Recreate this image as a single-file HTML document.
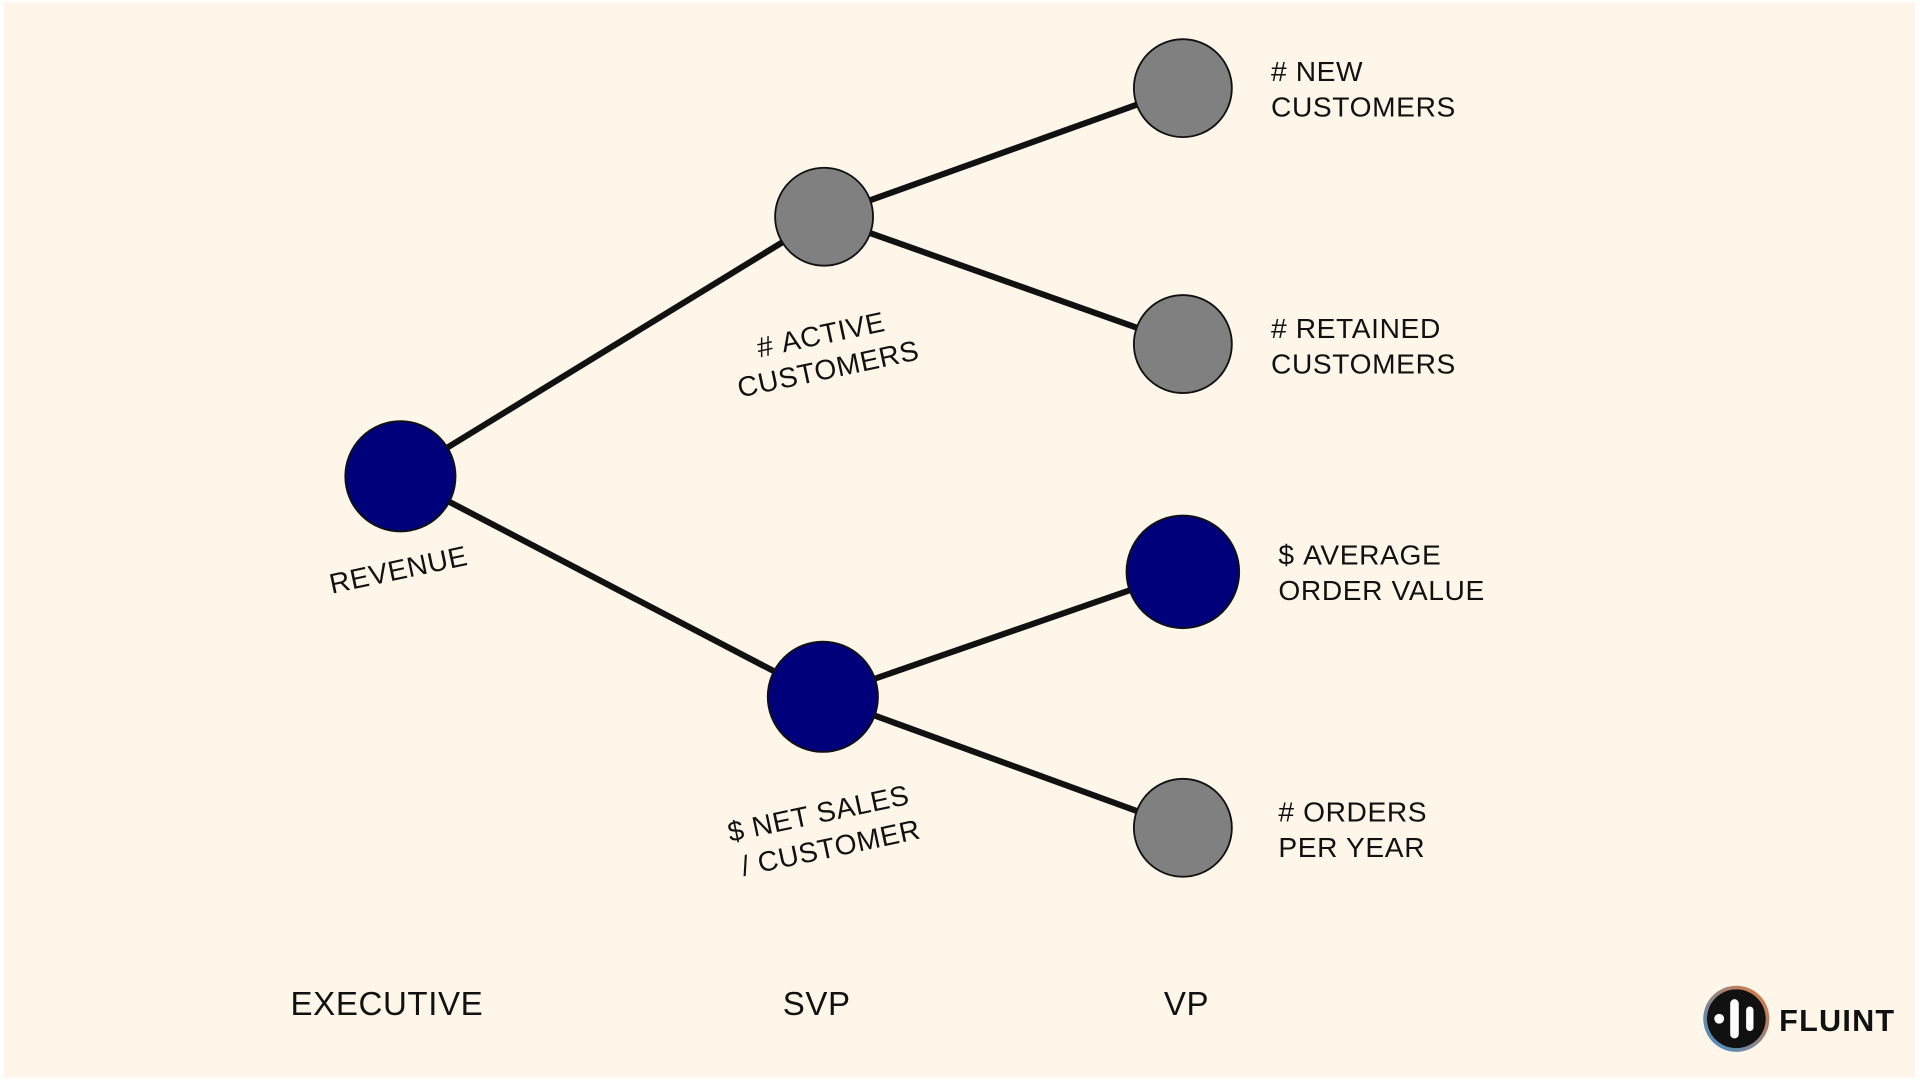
<!DOCTYPE html>
<html><head><meta charset="utf-8"><style>
html,body{margin:0;padding:0;background:#fff;}
svg{display:block;}
text{font-family:"Liberation Sans",sans-serif;fill:#111;}
</style></head><body>
<svg width="1920" height="1080" viewBox="0 0 1568 882" preserveAspectRatio="none">
<rect x="0" y="0" width="1568" height="882" fill="#fff"/>
<rect x="3" y="2" width="1561" height="878" fill="#fdf6e9"/>
<g stroke="#111" stroke-width="5">
<line x1="327" y1="389" x2="673" y2="177"/>
<line x1="327" y1="389" x2="672" y2="569"/>
<line x1="673" y1="177" x2="966" y2="72"/>
<line x1="673" y1="177" x2="966" y2="281"/>
<line x1="672" y1="569" x2="966" y2="467"/>
<line x1="672" y1="569" x2="966" y2="676"/>
</g>
<g stroke="#111" stroke-width="1.5">
<circle cx="327" cy="389" r="45" fill="#00007a"/>
<circle cx="673" cy="177" r="40" fill="#808080"/>
<circle cx="672" cy="569" r="45" fill="#00007a"/>
<circle cx="966" cy="72" r="40" fill="#808080"/>
<circle cx="966" cy="281" r="40" fill="#808080"/>
<circle cx="966" cy="467" r="46" fill="#00007a"/>
<circle cx="966" cy="676" r="40" fill="#808080"/>
</g>
<g font-size="23" letter-spacing="0.5">
<text x="1038" y="66">#&#160;NEW</text>
<text x="1038" y="95">CUSTOMERS</text>
<text x="1038" y="276">#&#160;RETAINED</text>
<text x="1038" y="305">CUSTOMERS</text>
<text x="1044" y="461">$&#160;AVERAGE</text>
<text x="1044" y="490">ORDER VALUE</text>
<text x="1044" y="671">#&#160;ORDERS</text>
<text x="1044" y="700">PER YEAR</text>
<g text-anchor="middle">
<text transform="translate(327,473) rotate(-12)">REVENUE</text>
<text transform="translate(672,281) rotate(-12)">#&#160;ACTIVE</text>
<text transform="translate(678,309) rotate(-12)">CUSTOMERS</text>
<text transform="translate(670,672) rotate(-12)">$&#160;NET SALES</text>
<text transform="translate(680,700) rotate(-12)">/ CUSTOMER</text>
</g>
</g>
<g font-size="27" text-anchor="middle" letter-spacing="0.5">
<text x="316" y="829">EXECUTIVE</text>
<text x="667" y="829">SVP</text>
<text x="969" y="829">VP</text>
</g>
<defs><linearGradient id="g" x1="0" y1="1" x2="1" y2="0"><stop offset="0" stop-color="#3a8fd0"/><stop offset="1" stop-color="#e87a3a"/></linearGradient></defs>
<circle cx="1418" cy="832" r="27" fill="url(#g)"/>
<circle cx="1418" cy="832" r="24" fill="#111"/>
<circle cx="1404" cy="832" r="4" fill="#fff"/>
<rect x="1413" y="816" width="7" height="32" rx="3.5" fill="#fff"/>
<rect x="1426" y="822" width="6" height="20" rx="3" fill="#fff"/>
<text x="1453" y="842" font-size="25" font-weight="bold" letter-spacing="1">FLUINT</text>
</svg>
</body></html>
